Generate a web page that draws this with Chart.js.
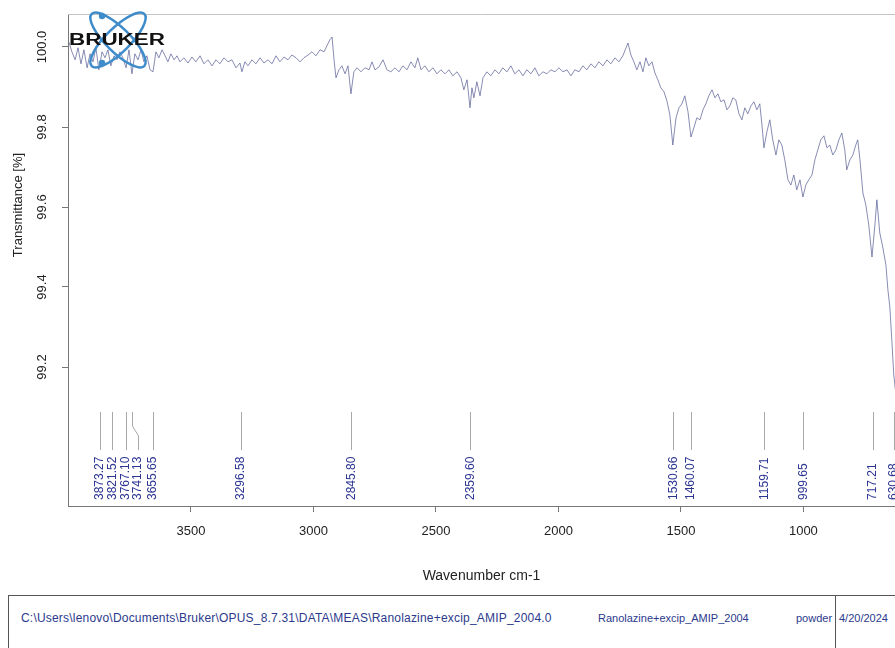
<!DOCTYPE html>
<html>
<head>
<meta charset="utf-8">
<script src="https://cdn.jsdelivr.net/npm/chart.js@4"></script>
<style>
  body { margin: 0; background: #fff; overflow: hidden; width: 895px; height: 648px; }
  #wrap { position: absolute; left: 0; top: 0; width: 895px; height: 590px; }
  #foot { position: absolute; left: 8px; top: 595px; width: 1000px; height: 70px; border: 1px solid #555; }
  #foot span { position: absolute; top: 16px; font: 11px "Liberation Sans", Arial, sans-serif; color: #2b3a8c; white-space: nowrap; }
  #divider { position: absolute; left: 826px; top: 0; height: 70px; border-left: 1px solid #555; }
</style>
</head>
<body>
<div id="wrap"><canvas id="myChart"></canvas></div>
<div id="foot">
  <span style="left:12px; top:15px; font-size:12px; letter-spacing:0.2px">C:\Users\lenovo\Documents\Bruker\OPUS_8.7.31\DATA\MEAS\Ranolazine+excip_AMIP_2004.0</span>
  <span style="left:589px">Ranolazine+excip_AMIP_2004</span>
  <span style="left:787px">powder</span>
  <div id="divider"></div>
  <span style="left:830px">4/20/2024</span>
</div>
<script>
// spectrum (cm-1, %T)
const wavenumbers = [
  3998, 3986, 3973, 3961, 3949, 3937, 3924, 3912, 3900, 3888, 3876, 3863, 3851, 3839, 3827, 3814,
  3802, 3790, 3778, 3765, 3753, 3741, 3729, 3716, 3704, 3692, 3680, 3667, 3655, 3643, 3631, 3618,
  3606, 3594, 3582, 3569, 3557, 3545, 3529, 3512, 3496, 3480, 3463, 3447, 3431, 3414, 3398, 3382,
  3365, 3349, 3333, 3316, 3300, 3292, 3280, 3267, 3251, 3235, 3218, 3202, 3186, 3169, 3153, 3137,
  3120, 3104, 3088, 3071, 3055, 3039, 3022, 3006, 2990, 2973, 2957, 2945, 2933, 2924, 2916, 2908,
  2896, 2884, 2871, 2859, 2847, 2835, 2822, 2806, 2790, 2773, 2761, 2749, 2733, 2716, 2700, 2684,
  2667, 2651, 2635, 2618, 2602, 2586, 2574, 2561, 2545, 2529, 2512, 2496, 2480, 2463, 2447, 2431,
  2414, 2398, 2386, 2373, 2361, 2353, 2345, 2333, 2320, 2308, 2292, 2276, 2259, 2243, 2227, 2210,
  2194, 2178, 2161, 2145, 2129, 2112, 2096, 2080, 2063, 2047, 2031, 2014, 1998, 1982, 1965, 1949,
  1933, 1916, 1900, 1884, 1867, 1851, 1835, 1818, 1802, 1786, 1769, 1753, 1737, 1724, 1716, 1704,
  1692, 1680, 1667, 1655, 1643, 1631, 1618, 1606, 1594, 1582, 1569, 1557, 1545, 1533, 1520, 1508,
  1496, 1484, 1471, 1459, 1447, 1435, 1422, 1410, 1398, 1386, 1373, 1361, 1349, 1337, 1324, 1312,
  1300, 1288, 1276, 1263, 1251, 1239, 1227, 1214, 1202, 1190, 1178, 1169, 1161, 1149, 1137, 1125,
  1112, 1100, 1088, 1076, 1063, 1051, 1039, 1027, 1014, 1002, 990, 978, 965, 953, 941, 929,
  916, 904, 892, 880, 867, 855, 843, 831, 823, 810, 798, 786, 778, 769, 757, 745,
  733, 720, 708, 700, 688, 676, 663, 655, 647, 639, 631, 622
];
const transmittance = [
  100.012, 99.988, 99.968, 99.998, 99.958, 99.993, 99.948, 99.983, 99.963, 99.998, 99.943, 99.988, 99.973, 99.993, 99.953, 99.978,
  99.968, 99.988, 99.973, 99.948, 99.993, 99.933, 99.983, 99.968, 99.993, 99.963, 99.978, 99.943, 99.938, 99.988, 99.973, 99.993,
  99.978, 99.963, 99.983, 99.968, 99.978, 99.963, 99.973, 99.960, 99.975, 99.963, 99.978, 99.958, 99.968, 99.953, 99.968, 99.958,
  99.973, 99.963, 99.968, 99.948, 99.960, 99.938, 99.963, 99.953, 99.968, 99.958, 99.973, 99.960, 99.968, 99.958, 99.978, 99.963,
  99.975, 99.968, 99.980, 99.973, 99.963, 99.973, 99.980, 99.988, 99.978, 99.993, 99.988, 100.003, 100.018, 100.025, 99.968, 99.923,
  99.943, 99.953, 99.933, 99.953, 99.883, 99.938, 99.948, 99.938, 99.948, 99.943, 99.963, 99.943, 99.950, 99.968, 99.943, 99.938,
  99.948, 99.938, 99.953, 99.943, 99.963, 99.948, 99.973, 99.943, 99.953, 99.938, 99.948, 99.933, 99.943, 99.933, 99.943, 99.928,
  99.938, 99.923, 99.893, 99.918, 99.848, 99.898, 99.873, 99.913, 99.878, 99.923, 99.938, 99.928, 99.943, 99.933, 99.948, 99.938,
  99.953, 99.933, 99.943, 99.928, 99.943, 99.933, 99.948, 99.928, 99.938, 99.933, 99.943, 99.938, 99.948, 99.938, 99.943, 99.928,
  99.943, 99.938, 99.953, 99.943, 99.958, 99.948, 99.963, 99.953, 99.968, 99.958, 99.973, 99.963, 99.978, 99.998, 100.010, 99.980,
  99.963, 99.943, 99.963, 99.938, 99.973, 99.953, 99.963, 99.935, 99.918, 99.898, 99.888, 99.865, 99.830, 99.755, 99.823, 99.848,
  99.858, 99.878, 99.838, 99.775, 99.798, 99.823, 99.818, 99.843, 99.858, 99.878, 99.893, 99.873, 99.883, 99.863, 99.868, 99.843,
  99.853, 99.873, 99.868, 99.833, 99.818, 99.848, 99.833, 99.853, 99.863, 99.843, 99.858, 99.805, 99.748, 99.788, 99.818, 99.768,
  99.730, 99.768, 99.755, 99.718, 99.668, 99.655, 99.680, 99.643, 99.668, 99.625, 99.655, 99.668, 99.680, 99.718, 99.743, 99.768,
  99.778, 99.748, 99.755, 99.730, 99.743, 99.768, 99.785, 99.743, 99.693, 99.718, 99.730, 99.755, 99.768, 99.718, 99.635, 99.605,
  99.555, 99.475, 99.555, 99.618, 99.535, 99.500, 99.455, 99.393, 99.350, 99.268, 99.180, 99.130
];

const peaks = [3873.27, 3821.52, 3767.10, 3741.13, 3655.65, 3296.58, 2845.80, 2359.60, 1530.66, 1460.07, 1159.71, 999.65, 717.21, 630.68];
const xTicks = [3500, 3000, 2500, 2000, 1500, 1000];
const yTicks = [99.2, 99.4, 99.6, 99.8, 100.0];

const FONT = '"Liberation Sans", Arial, sans-serif';

const decor = {
  id: 'decor',
  afterDraw(chart) {
    const ctx = chart.ctx;
    const a = chart.chartArea;
    const xs = chart.scales.x;
    const ys = chart.scales.y;
    ctx.save();

    // top frame line
    ctx.strokeStyle = '#c4c4c4';
    ctx.lineWidth = 1;
    ctx.beginPath();
    ctx.moveTo(a.left, a.top + 0.5);
    ctx.lineTo(a.right, a.top + 0.5);
    ctx.stroke();

    // y tick labels, written vertically
    ctx.fillStyle = '#222';
    ctx.font = '13px ' + FONT;
    ctx.textAlign = 'center';
    ctx.textBaseline = 'middle';
    yTicks.forEach(v => {
      ctx.save();
      ctx.translate(a.left - 26, ys.getPixelForValue(v));
      ctx.rotate(-Math.PI / 2);
      ctx.fillText(v.toFixed(1), 0, 0);
      ctx.restore();
    });

    // y title
    ctx.save();
    ctx.translate(18, 205);
    ctx.rotate(-Math.PI / 2);
    ctx.fillText('Transmittance [%]', 0, 0);
    ctx.restore();

    // peak picks
    const top = a.bottom - 94, bend1 = a.bottom - 80, bend2 = a.bottom - 70, low = a.bottom - 56;
    let lastX = -100;
    ctx.font = '12px ' + FONT;
    ctx.textAlign = 'left';
    ctx.lineWidth = 1;
    peaks.forEach(p => {
      const px = xs.getPixelForValue(p);
      const lx = Math.max(px, lastX + 12.5);
      lastX = lx;
      ctx.strokeStyle = '#a8a8a8';
      ctx.beginPath();
      ctx.moveTo(Math.round(px) + 0.5, top);
      ctx.lineTo(Math.round(px) + 0.5, bend1);
      ctx.lineTo(Math.round(lx) + 0.5, bend2);
      ctx.lineTo(Math.round(lx) + 0.5, low);
      ctx.stroke();
      ctx.save();
      ctx.translate(lx, a.bottom - 6);
      ctx.rotate(-Math.PI / 2);
      ctx.fillStyle = '#2c3592';
      ctx.fillText(p.toFixed(2), 0, 0);
      ctx.restore();
    });

    // Bruker logo
    ctx.strokeStyle = '#3f8ccb';
    ctx.fillStyle = '#3f8ccb';
    ctx.lineWidth = 2.5;
    [0.78, -0.78].forEach(r => {
      ctx.beginPath();
      ctx.ellipse(118, 40, 37, 12, r, 0, Math.PI * 2);
      ctx.stroke();
    });
    [[102, 16], [102, 63]].forEach(d => {
      ctx.beginPath();
      ctx.arc(d[0], d[1], 3.2, 0, Math.PI * 2);
      ctx.fill();
    });
    ctx.fillStyle = '#111';
    ctx.font = 'bold 16px ' + FONT;
    ctx.textBaseline = 'middle';
    const w = ctx.measureText('BRUKER').width;
    ctx.save();
    ctx.translate(69, 41);
    ctx.scale(96 / w, 1);
    ctx.fillText('BRUKER', 0, 0);
    ctx.restore();

    ctx.restore();
  }
};

new Chart(document.getElementById('myChart'), {
  type: 'line',
  data: {
    datasets: [{
      data: wavenumbers.map((w, i) => ({ x: w, y: transmittance[i] })),
      borderColor: '#555a92',
      borderWidth: 0.7,
      pointRadius: 0,
      tension: 0,
      fill: false
    }]
  },
  options: {
    responsive: true,
    maintainAspectRatio: false,
    animation: false,
    layout: { padding: { left: 8, top: 14, right: 0, bottom: 0 } },
    plugins: { legend: { display: false }, tooltip: { enabled: false } },
    scales: {
      x: {
        type: 'linear',
        reverse: true,
        min: 626,
        max: 4002,
        afterBuildTicks: s => { s.ticks = xTicks.map(v => ({ value: v })); },
        afterFit: s => { s.height = 84; },
        ticks: { color: '#222', font: { family: FONT, size: 13 }, padding: 12, maxRotation: 0, callback: v => String(v) },
        grid: { drawOnChartArea: false, drawTicks: true, tickLength: 6, color: '#777' },
        border: { display: true, color: '#777' },
        title: { display: true, text: 'Wavenumber cm-1', color: '#222', font: { family: FONT, size: 14 }, padding: { top: 0, bottom: 5 } }
      },
      y: {
        type: 'linear',
        min: 98.8525,
        max: 100.0825,
        afterBuildTicks: s => { s.ticks = yTicks.map(v => ({ value: v })); },
        afterFit: s => { s.width = 60; },
        ticks: { display: false },
        grid: { drawOnChartArea: false, drawTicks: true, tickLength: 6, color: '#777' },
        border: { display: true, color: '#777' }
      }
    }
  },
  plugins: [decor]
});
</script>
</body>
</html>
